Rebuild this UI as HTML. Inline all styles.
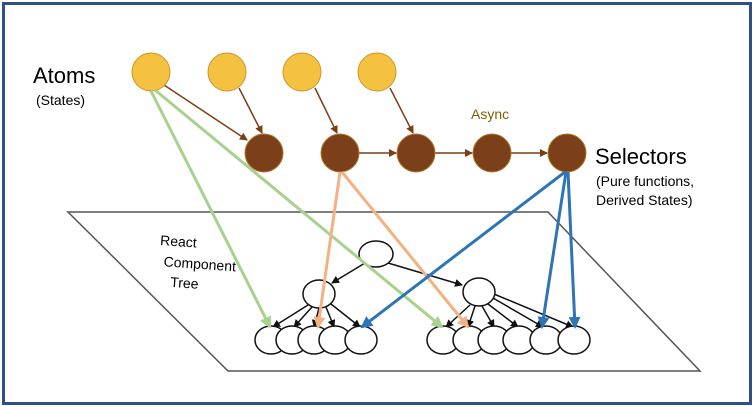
<!DOCTYPE html><html><head><style>body{margin:0;background:#fff}svg{display:block}text{font-family:"Liberation Sans",sans-serif}</style></head><body>
<svg width="754" height="407" viewBox="0 0 754 407">
<defs>
<marker id="mb" markerWidth="8" markerHeight="8" refX="7" refY="4" orient="auto" markerUnits="userSpaceOnUse"><path d="M0,0L8,4L0,8z" fill="#7a3f17"/></marker>
<marker id="mk" markerWidth="8" markerHeight="8" refX="7" refY="4" orient="auto" markerUnits="userSpaceOnUse"><path d="M0,0L8,4L0,8z" fill="#111"/></marker>
<marker id="mg" markerWidth="12" markerHeight="12" refX="10" refY="6" orient="auto" markerUnits="userSpaceOnUse"><path d="M0,0L12,6L0,12z" fill="#a9d18e"/></marker>
<marker id="mo" markerWidth="12" markerHeight="12" refX="10" refY="6" orient="auto" markerUnits="userSpaceOnUse"><path d="M0,0L12,6L0,12z" fill="#f4b183"/></marker>
<marker id="ml" markerWidth="12" markerHeight="12" refX="10" refY="6" orient="auto" markerUnits="userSpaceOnUse"><path d="M0,0L12,6L0,12z" fill="#2e75b6"/></marker>
</defs>
<rect x="3.5" y="3.5" width="747" height="400" fill="#fff" stroke="#2f4e8c" stroke-width="3"/>
<polygon points="68,212 548,212 700,371 228,371" fill="none" stroke="#555" stroke-width="1.5"/>
<text x="33" y="83" font-size="22">Atoms</text>
<text x="36" y="105" font-size="14">(States)</text>
<text x="595" y="164" font-size="22">Selectors</text>
<text x="596" y="186" font-size="14">(Pure functions,</text>
<text x="596" y="205" font-size="14">Derived States)</text>
<text x="471" y="119" font-size="14" fill="#7f6000">Async</text>
<g font-size="14" transform="rotate(4 160 243)"><text x="160" y="245">React</text><text x="165" y="266">Component</text><text x="173" y="286">Tree</text></g>
<g stroke="#7a3f17" stroke-width="1.5" fill="none">
<line x1="164" y1="85" x2="247" y2="140" marker-end="url(#mb)"/>
<line x1="239" y1="88" x2="262" y2="133" marker-end="url(#mb)"/>
<line x1="315" y1="88" x2="337" y2="133" marker-end="url(#mb)"/>
<line x1="390" y1="88" x2="413" y2="133" marker-end="url(#mb)"/>
<line x1="359" y1="153" x2="396" y2="153" marker-end="url(#mb)"/>
<line x1="435" y1="153" x2="472" y2="153" marker-end="url(#mb)"/>
<line x1="511" y1="153" x2="547" y2="153" marker-end="url(#mb)"/>
</g>
<g fill="#f4c141" stroke="#c9972a"><circle cx="151" cy="72" r="19"/><circle cx="227" cy="72" r="19"/><circle cx="302" cy="72" r="19"/><circle cx="377" cy="72" r="19"/></g>
<g fill="#7b3f1a" stroke="#b07a2a"><circle cx="264" cy="153" r="19"/><circle cx="340" cy="153" r="19"/><circle cx="416" cy="153" r="19"/><circle cx="492" cy="153" r="19"/><circle cx="567" cy="153" r="19"/></g>
<g stroke="#111" stroke-width="1.5">
<line x1="365" y1="263" x2="332" y2="283" marker-end="url(#mk)"/>
<line x1="388" y1="263" x2="462" y2="285" marker-end="url(#mk)"/>
<line x1="308" y1="305" x2="273" y2="327" marker-end="url(#mk)"/>
<line x1="312" y1="307" x2="294" y2="327" marker-end="url(#mk)"/>
<line x1="319" y1="308" x2="314" y2="327" marker-end="url(#mk)"/>
<line x1="326" y1="307" x2="334" y2="327" marker-end="url(#mk)"/>
<line x1="331" y1="304" x2="360" y2="327" marker-end="url(#mk)"/>
<line x1="470" y1="305" x2="446" y2="327" marker-end="url(#mk)"/>
<line x1="475" y1="306" x2="468" y2="327" marker-end="url(#mk)"/>
<line x1="482" y1="306" x2="494" y2="327" marker-end="url(#mk)"/>
<line x1="488" y1="304" x2="518" y2="327" marker-end="url(#mk)"/>
<line x1="493" y1="298" x2="543" y2="327" marker-end="url(#mk)"/>
<line x1="494" y1="294" x2="573" y2="327" marker-end="url(#mk)"/>
</g>
<g fill="#fff" stroke="#111" stroke-width="1.5">
<ellipse cx="376" cy="254" rx="17" ry="13"/>
<ellipse cx="319" cy="294" rx="16" ry="14"/>
<ellipse cx="479" cy="292" rx="16" ry="14"/>
<ellipse cx="271" cy="340" rx="16" ry="14"/><ellipse cx="292" cy="340" rx="16" ry="14"/><ellipse cx="314" cy="340" rx="16" ry="14"/><ellipse cx="335" cy="340" rx="16" ry="14"/><ellipse cx="361" cy="340" rx="16" ry="14"/>
<ellipse cx="443" cy="340" rx="16" ry="14"/><ellipse cx="469" cy="340" rx="16" ry="14"/><ellipse cx="494" cy="340" rx="16" ry="14"/><ellipse cx="519" cy="340" rx="16" ry="14"/><ellipse cx="546" cy="340" rx="16" ry="14"/><ellipse cx="574" cy="340" rx="16" ry="14"/>
</g>
<g stroke-width="3" fill="none">
<line x1="151" y1="91" x2="270" y2="327" stroke="#a9d18e" marker-end="url(#mg)"/>
<line x1="155" y1="90" x2="442" y2="327" stroke="#a9d18e" marker-end="url(#mg)"/>
<line x1="340" y1="172" x2="318" y2="327" stroke="#f4b183" marker-end="url(#mo)"/>
<line x1="342" y1="172" x2="468" y2="327" stroke="#f4b183" marker-end="url(#mo)"/>
<line x1="565" y1="172" x2="362" y2="327" stroke="#2e75b6" marker-end="url(#ml)"/>
<line x1="566" y1="172" x2="542" y2="327" stroke="#2e75b6" marker-end="url(#ml)"/>
<line x1="568" y1="172" x2="575" y2="327" stroke="#2e75b6" marker-end="url(#ml)"/>
</g>
</svg></body></html>
